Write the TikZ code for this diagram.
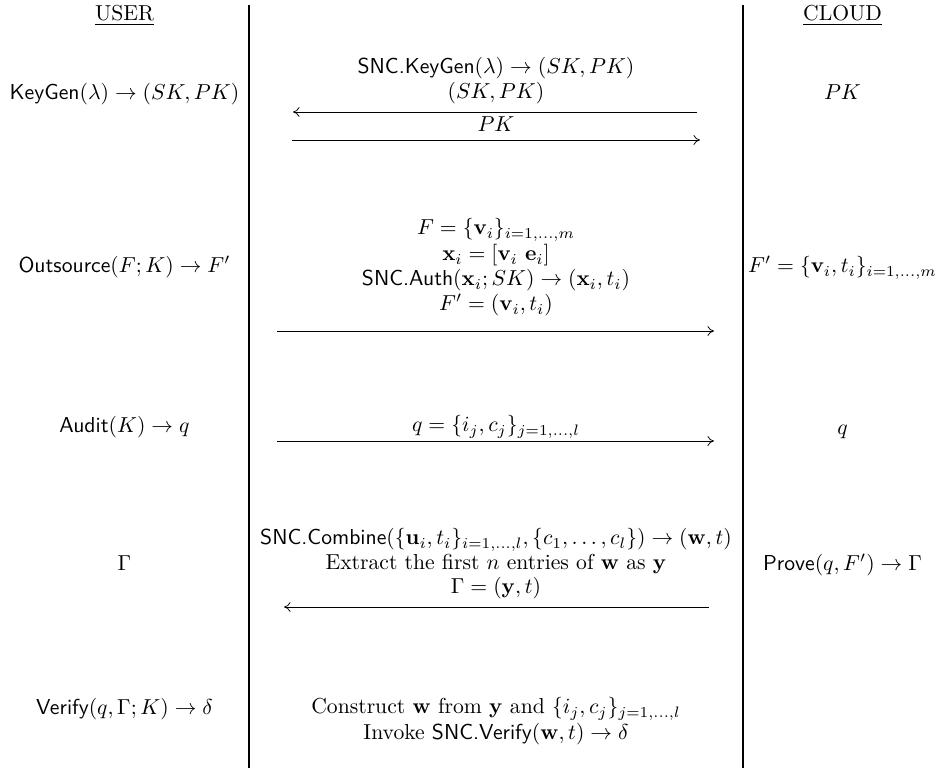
\documentclass[tikz,border=0pt]{standalone}
\usepackage{amsmath,amssymb}
\usetikzlibrary{arrows.meta}
\begin{document}
\begin{tikzpicture}[x=0.4619pt,y=-0.4619pt,
  txt/.style={inner sep=0pt, anchor=center, text height=6.8pt, text depth=2.4pt},
  msg/.style={-{To[length=3pt,width=4.5pt]}, line width=0.35pt},
  sepline/.style={line width=0.9pt}]
\useasboundingbox (0,0) rectangle (942,768);
% separators
\coordinate (l1) at (249,5); \coordinate (l2) at (249,768);
\coordinate (r1) at (743,5); \coordinate (r2) at (743,768);
\draw[sepline] (l1) -- (l2);
\draw[sepline] (r1) -- (r2);
% headers
\node[txt] (user) at (124.5,16) {\underline{USER}};
\node[txt] (cloud) at (842.5,16) {\underline{CLOUD}};
% left column
\node[txt] (kg) at (124.5,95) {$\textsf{KeyGen}(\lambda)\rightarrow(SK,PK)$};
\node[txt] (os) at (124.5,268) {$\textsf{Outsource}(F;K)\rightarrow F'$};
\node[txt] (au) at (124.5,428) {$\textsf{Audit}(K)\rightarrow q$};
\node[txt] (gl) at (124.5,566) {$\Gamma$};
\node[txt] (vf) at (124.5,710) {$\textsf{Verify}(q,\Gamma;K)\rightarrow\delta$};
% right column
\node[txt] (pk) at (842.5,95) {$PK$};
\node[txt] (fp) at (842.5,268) {$F'=\{\mathbf{v}_i,t_i\}_{i=1,\ldots,m}$};
\node[txt] (qr) at (842.5,430) {$q$};
\node[txt] (pr) at (842.5,566) {$\textsf{Prove}(q,F')\rightarrow\Gamma$};
% middle: keygen
\node[txt] (m1) at (496,69) {$\textsf{SNC.KeyGen}(\lambda)\rightarrow(SK,PK)$};
\node[txt] (m2) at (496,94) {$(SK,PK)$};
\coordinate (a1s) at (697,112); \coordinate (a1e) at (293,112);
\draw[msg] (a1s) -- (a1e);
\node[txt] (m3) at (496,127) {$PK$};
\coordinate (a2s) at (292,140); \coordinate (a2e) at (700,140);
\draw[msg] (a2s) -- (a2e);
% middle: outsource
\node[txt] (m4) at (496,230) {$F=\{\mathbf{v}_i\}_{i=1,\ldots,m}$};
\node[txt] (m5) at (496,256) {$\mathbf{x}_i=[\mathbf{v}_i\ \mathbf{e}_i]$};
\node[txt] (m6) at (496,281) {$\textsf{SNC.Auth}(\mathbf{x}_i;SK)\rightarrow(\mathbf{x}_i,t_i)$};
\node[txt] (m7) at (496,306) {$F'=(\mathbf{v}_i,t_i)$};
\coordinate (a3s) at (277,331); \coordinate (a3e) at (714,331);
\draw[msg] (a3s) -- (a3e);
% middle: audit
\node[txt] (m8) at (496,427) {$q=\{i_j,c_j\}_{j=1,\ldots,l}$};
\coordinate (a4s) at (277,441); \coordinate (a4e) at (714,441);
\draw[msg] (a4s) -- (a4e);
% middle: prove
\node[txt] (m9) at (496,540) {$\textsf{SNC.Combine}(\{\mathbf{u}_i,t_i\}_{i=1,\ldots,l},\{c_1,\ldots,c_l\})\rightarrow(\mathbf{w},t)$};
\node[txt] (m10) at (496,565) {Extract the first $n$ entries of $\mathbf{w}$ as $\mathbf{y}$};
\node[txt] (m11) at (496,589) {$\Gamma=(\mathbf{y},t)$};
\coordinate (a5s) at (709,607); \coordinate (a5e) at (284,607);
\draw[msg] (a5s) -- (a5e);
% middle: verify
\node[txt] (m12) at (496,709) {Construct $\mathbf{w}$ from $\mathbf{y}$ and $\{i_j,c_j\}_{j=1,\ldots,l}$};
\node[txt] (m13) at (496,735) {Invoke $\textsf{SNC.Verify}(\mathbf{w},t)\rightarrow\delta$};
\end{tikzpicture}
\end{document}
